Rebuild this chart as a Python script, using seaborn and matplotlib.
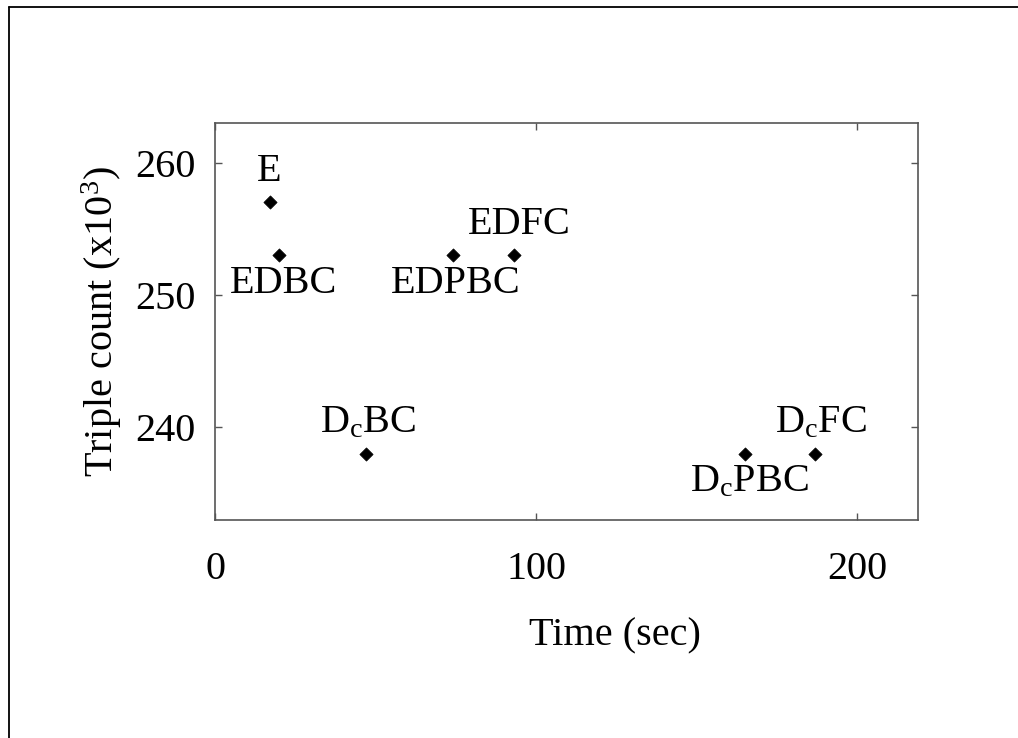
import matplotlib
matplotlib.use("Agg")
import matplotlib.pyplot as plt
import seaborn as sns
import pandas as pd
from matplotlib.lines import Line2D

# data
labels = ["E", "EDBC", r"D$_\mathrm{c}$BC", "EDPBC", "EDFC", r"D$_\mathrm{c}$PBC", r"D$_\mathrm{c}$FC"]
time_sec = [17, 20, 47, 74, 93, 165, 187]
triples_k = [257, 253, 238, 253, 253, 238, 238]
# label placement: above or below the point
above = [True, False, True, False, True, False, True]
x_nudge = [0, 3, 1.5, 2, 4, 3, 4]   # points

df = pd.DataFrame({"time": time_sec, "triples": triples_k, "label": labels})

sns.set_theme(style="ticks")
plt.rcParams["font.family"] = ["Liberation Serif", "DejaVu Serif"]
plt.rcParams["mathtext.fontset"] = "custom"
plt.rcParams["mathtext.rm"] = "Liberation Serif"
plt.rcParams["mathtext.it"] = "Liberation Serif:italic"
plt.rcParams["text.color"] = "black"
plt.rcParams["axes.labelcolor"] = "black"
plt.rcParams["xtick.labelcolor"] = "black"
plt.rcParams["ytick.labelcolor"] = "black"

FS = 29

fig = plt.figure(figsize=(10.18, 7.38), dpi=100)
ax = fig.add_axes([0.2112, 0.2954, 0.6906, 0.5379])

sns.scatterplot(data=df, x="time", y="triples", marker="D", s=45,
                color="black", edgecolor="black", ax=ax, legend=False)

for x, y, t, up, dx in zip(time_sec, triples_k, labels, above, x_nudge):
    if up:
        ax.annotate(t, (x, y), xytext=(dx, 9), textcoords="offset points",
                    ha="center", va="bottom", fontsize=FS, color="black")
    else:
        ax.annotate(t, (x, y), xytext=(dx, -7), textcoords="offset points",
                    ha="center", va="top", fontsize=FS, color="black")

ax.set_xlim(0, 219)
ax.set_ylim(233, 263)
ax.set_xticks([0, 100, 200])
ax.set_yticks([240, 250, 260])
ax.set_xlabel("Time (sec)", fontsize=FS)
ax.xaxis.set_label_coords(0.569, -0.245)
ax.set_ylabel(r"Triple count (x10$^3$)", fontsize=FS, labelpad=8)
ax.tick_params(direction="in", length=5, width=1, top=True, right=True,
               labelsize=FS, color="#555555")
ax.tick_params(axis="x", pad=22)
ax.tick_params(axis="y", pad=14)
for sp in ax.spines.values():
    sp.set_visible(True)
    sp.set_color("#555555")
    sp.set_linewidth(1.2)

# page frame (top and left edges only)
fig.add_artist(Line2D([0.0088, 1.0], [0.9905, 0.9905], color="black", lw=1.3,
                      transform=fig.transFigure))
fig.add_artist(Line2D([0.0088, 0.0088], [0.0, 0.9905], color="black", lw=1.3,
                      transform=fig.transFigure))

fig.savefig("out.png", dpi=100, facecolor="white")
